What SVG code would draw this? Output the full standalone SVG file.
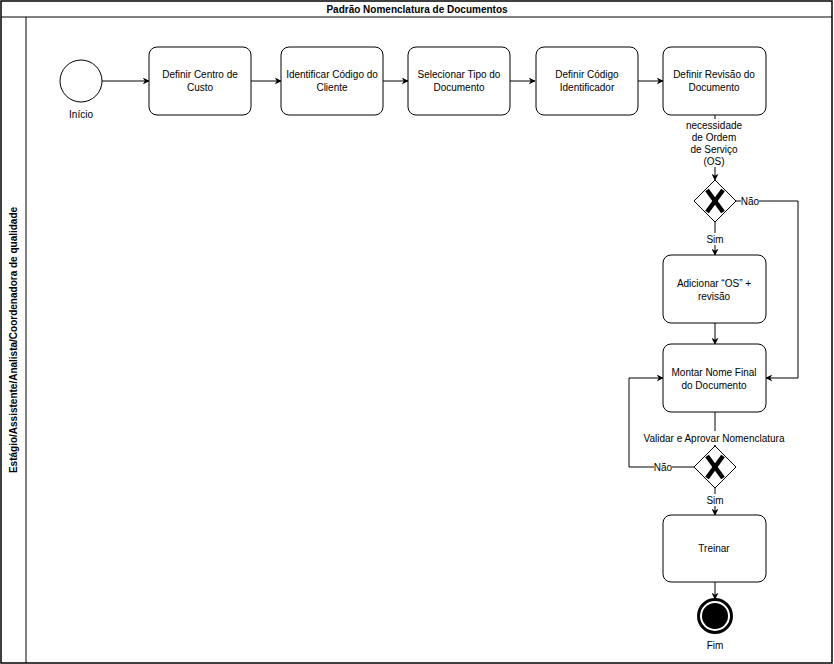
<svg xmlns="http://www.w3.org/2000/svg" width="834" height="664" viewBox="0 0 834 664">
<style>
text{font-family:"Liberation Sans",Arial,sans-serif;font-size:10px;fill:#000;text-anchor:middle;dominant-baseline:central}
.b{font-weight:bold}
.task{fill:#fff;stroke:#000;stroke-width:1}
.ln{fill:none;stroke:#000;stroke-width:1}
.x{stroke:#000;stroke-width:4.5;stroke-linecap:butt}
</style>
<defs>
<marker id="ar" viewBox="0 0 10 10" refX="9" refY="5" markerWidth="7" markerHeight="7" orient="auto" markerUnits="userSpaceOnUse">
<path d="M0,0 L10,5 L0,10 L3,5 Z" fill="#000"/>
</marker>
</defs>
<rect width="834" height="664" fill="#fff"/>
<g id="pool">
<rect x="1" y="1" width="831" height="662" fill="none" stroke="#000" stroke-width="1.5"/>
<line x1="1" y1="17" x2="832" y2="17" stroke="#000" stroke-width="1"/>
<line x1="26" y1="17" x2="26" y2="663" stroke="#000" stroke-width="1"/>
<text class="b" x="417" y="9">Padrão Nomenclatura de Documentos</text>
<text class="b" transform="translate(13,340) rotate(-90)">Estágio/Assistente/Analista/Coordenadora de qualidade</text>
</g>
<g id="connectors">
<line class="ln" x1="102" y1="81" x2="149" y2="81" marker-end="url(#ar)"/>
<line class="ln" x1="251" y1="81" x2="281" y2="81" marker-end="url(#ar)"/>
<line class="ln" x1="383" y1="81" x2="408" y2="81" marker-end="url(#ar)"/>
<line class="ln" x1="510" y1="81" x2="535" y2="81" marker-end="url(#ar)"/>
<line class="ln" x1="638" y1="81" x2="663" y2="81" marker-end="url(#ar)"/>
<line class="ln" x1="715" y1="115" x2="715" y2="180" marker-end="url(#ar)"/>
<rect x="688" y="119" width="52" height="48" fill="#fff"/>
<text x="714" y="125">necessidade</text>
<text x="714" y="137">de Ordem</text>
<text x="714" y="149">de Serviço</text>
<text x="714" y="161">(OS)</text>
<polyline class="ln" points="736,201 798,201 798,378 766,378" marker-end="url(#ar)"/>
<rect x="741" y="195" width="18" height="12" fill="#fff"/>
<text x="750" y="201">Não</text>
<line class="ln" x1="715" y1="222" x2="715" y2="255" marker-end="url(#ar)"/>
<rect x="705" y="233" width="20" height="12" fill="#fff"/>
<text x="715" y="239">Sim</text>
<line class="ln" x1="715" y1="323" x2="715" y2="344" marker-end="url(#ar)"/>
<line class="ln" x1="715" y1="412" x2="715" y2="446" marker-end="url(#ar)"/>
<rect x="643" y="431" width="142" height="14" fill="#fff"/>
<text x="714" y="438">Validar e Aprovar Nomenclatura</text>
<polyline class="ln" points="694,467 629,467 629,378 663,378" marker-end="url(#ar)"/>
<rect x="654" y="461" width="18" height="12" fill="#fff"/>
<text x="663" y="467">Não</text>
<line class="ln" x1="715" y1="488" x2="715" y2="515" marker-end="url(#ar)"/>
<rect x="705" y="494" width="20" height="12" fill="#fff"/>
<text x="715" y="500">Sim</text>
<line class="ln" x1="715" y1="582" x2="715" y2="599" marker-end="url(#ar)"/>
</g>
<g id="start">
<circle cx="81" cy="81" r="21" fill="#fff" stroke="#000" stroke-width="1"/>
<text x="81" y="114">Início</text>
</g>
<g id="t1">
<rect class="task" x="149" y="47" width="102" height="68" rx="8"/>
<text x="200" y="74">Definir Centro de</text>
<text x="200" y="87">Custo</text>
</g>
<g id="t2">
<rect class="task" x="281" y="47" width="102" height="68" rx="8"/>
<text x="332" y="74">Identificar Código do</text>
<text x="332" y="87">Cliente</text>
</g>
<g id="t3">
<rect class="task" x="408" y="47" width="102" height="68" rx="8"/>
<text x="459" y="74">Selecionar Tipo do</text>
<text x="459" y="87">Documento</text>
</g>
<g id="t4">
<rect class="task" x="536" y="47" width="102" height="68" rx="8"/>
<text x="587" y="74">Definir Código</text>
<text x="587" y="87">Identificador</text>
</g>
<g id="t5">
<rect class="task" x="663" y="47" width="103" height="68" rx="8"/>
<text x="714" y="74">Definir Revisão do</text>
<text x="714" y="87">Documento</text>
</g>
<g id="gw1">
<polygon points="715,180 736,201 715,222 694,201" fill="#fff" stroke="#000" stroke-width="1"/>
<line class="x" x1="707" y1="190" x2="723" y2="212"/>
<line class="x" x1="723" y1="190" x2="707" y2="212"/>
</g>
<g id="t6">
<rect class="task" x="663" y="255" width="103" height="68" rx="8"/>
<text x="714" y="283">Adicionar “OS” +</text>
<text x="714" y="296">revisão</text>
</g>
<g id="t7">
<rect class="task" x="663" y="344" width="103" height="68" rx="8"/>
<text x="714" y="372">Montar Nome Final</text>
<text x="714" y="385">do Documento</text>
</g>
<g id="gw2">
<polygon points="715,446 736,467 715,488 694,467" fill="#fff" stroke="#000" stroke-width="1"/>
<line class="x" x1="707" y1="456" x2="723" y2="478"/>
<line class="x" x1="723" y1="456" x2="707" y2="478"/>
</g>
<g id="t8">
<rect class="task" x="663" y="515" width="103" height="67" rx="8"/>
<text x="714" y="548">Treinar</text>
</g>
<g id="end">
<circle cx="715" cy="616" r="16.5" fill="#fff" stroke="#000" stroke-width="3"/>
<circle cx="715" cy="616" r="13" fill="#000"/>
<text x="715" y="645">Fim</text>
</g>
</svg>
